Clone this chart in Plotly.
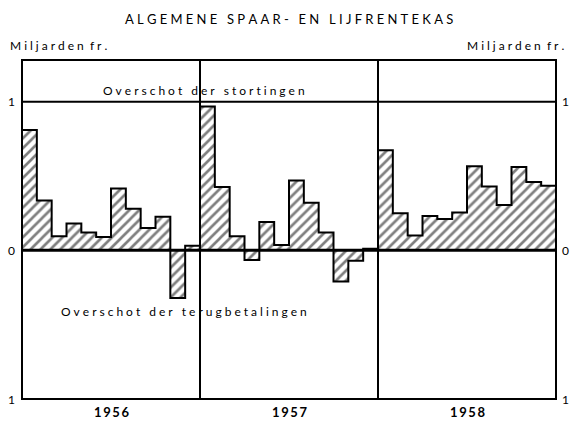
import plotly.graph_objects as go

years = ["1956", "1957", "1958"]
months_per_year = 12
v1956 = [0.81, 0.335, 0.095, 0.18, 0.12, 0.09, 0.415, 0.28, 0.15, 0.225, -0.32, 0.03]
v1957 = [0.967, 0.425, 0.095, -0.065, 0.19, 0.035, 0.47, 0.32, 0.12, -0.21, -0.07, 0.01]
v1958 = [0.673, 0.25, 0.10, 0.23, 0.21, 0.255, 0.565, 0.43, 0.305, 0.56, 0.46, 0.435]
y_tick_vals = [1, 0, -1]
y_tick_text = ["1", "0", "1"]

title_text = "ALGEMENE SPAAR- EN LIJFRENTEKAS"
unit_text = "Miljarden fr."
upper_label = "Overschot der stortingen"
lower_label = "Overschot der terugbetalingen"

def spaced(s, sep="\u2005", wsep="\u2005\u00a0\u2005"):
    return wsep.join(sep.join(list(w)) for w in s.split(" "))

values = v1956 + v1957 + v1958
n = len(values)
xpos = [i + 0.5 for i in range(n)]

# step outline built from the same values
sx, sy = [0], [0]
for i, v in enumerate(values):
    sx += [i, i + 1]
    sy += [v, v]
sx.append(n)
sy.append(0)

FONT = "Lato"
fig = go.Figure()
fig.add_trace(go.Bar(
    x=xpos, y=values, width=1.0,
    marker=dict(color="white",
                line=dict(color="black", width=0),
                pattern=dict(shape="/", fgcolor="black", bgcolor="white",
                             size=7, solidity=0.38, fillmode="overlay")),
    hoverinfo="skip",
))
fig.add_trace(go.Scatter(x=sx, y=sy, mode="lines",
                         line=dict(color="black", width=2), hoverinfo="skip"))

ymin, ymax = -1, 1.28
shapes = []
shapes.append(dict(type="line", xref="paper", yref="y", x0=0, x1=1, y0=1, y1=1,
                   line=dict(color="black", width=2)))
shapes.append(dict(type="line", xref="paper", yref="y", x0=0, x1=1, y0=0, y1=0,
                   line=dict(color="black", width=3)))
for k in range(1, len(years)):
    shapes.append(dict(type="line", xref="x", yref="paper", x0=k * months_per_year,
                       x1=k * months_per_year, y0=0, y1=1,
                       line=dict(color="black", width=2)))
shapes.append(dict(type="rect", xref="paper", yref="paper", x0=0, x1=1, y0=0, y1=1,
                   line=dict(color="black", width=2), fillcolor="rgba(0,0,0,0)"))

ann = []
tf = dict(family=FONT, size=12, color="black")
for v, t in zip(y_tick_vals, y_tick_text):
    ann.append(dict(x=0, xref="paper", y=v, yref="y", text=t, showarrow=False,
                    xanchor="right", xshift=-5, font=tf))
    ann.append(dict(x=1, xref="paper", y=v, yref="y", text=t, showarrow=False,
                    xanchor="left", xshift=4, font=tf))
for k, yr in enumerate(years):
    ann.append(dict(x=k * months_per_year + months_per_year / 2, xref="x", y=0, yref="paper",
                    yanchor="top", yshift=-3, text=spaced(yr, sep="\u2009"), showarrow=False,
                    font=dict(family=FONT, size=13, color="black", weight="bold")))
ann.append(dict(x=0.5, xref="paper", y=1, yref="paper", yanchor="bottom", yshift=31,
                text=spaced(title_text), showarrow=False,
                font=dict(family=FONT, size=13, color="black")))
unit_spaced = spaced(unit_text, sep="\u2005", wsep="\u2005\u00a0")
ann.append(dict(x=0, xref="paper", y=1, yref="paper", yanchor="bottom", xanchor="left",
                xshift=-14, yshift=5, text=unit_spaced, showarrow=False,
                font=dict(family=FONT, size=12, color="black")))
ann.append(dict(x=1, xref="paper", y=1, yref="paper", yanchor="bottom", xanchor="right",
                xshift=10, yshift=5, text=unit_spaced, showarrow=False,
                font=dict(family=FONT, size=12, color="black")))
ann.append(dict(x=12.3, xref="x", y=1, yref="y", yanchor="bottom", xanchor="center",
                yshift=2, text=spaced(upper_label), showarrow=False,
                font=dict(family=FONT, size=12, color="black")))
ann.append(dict(x=10.9, xref="x", y=-0.41, yref="y", yanchor="middle", xanchor="center",
                text=spaced(lower_label), showarrow=False,
                font=dict(family=FONT, size=12, color="black")))

fig.update_layout(
    width=571, height=421,
    margin=dict(l=22, r=15, t=60, b=22),
    paper_bgcolor="white", plot_bgcolor="white",
    showlegend=False, bargap=0,
    xaxis=dict(range=[0, n], showticklabels=False, showgrid=False, zeroline=False,
               ticks="", fixedrange=True),
    yaxis=dict(range=[ymin, ymax], showticklabels=False, showgrid=False, zeroline=False,
               ticks="", fixedrange=True),
    shapes=shapes, annotations=ann,
)
fig.write_html("out.html", post_script="document.body.style.margin='0';",
               config={"displayModeBar": False})
